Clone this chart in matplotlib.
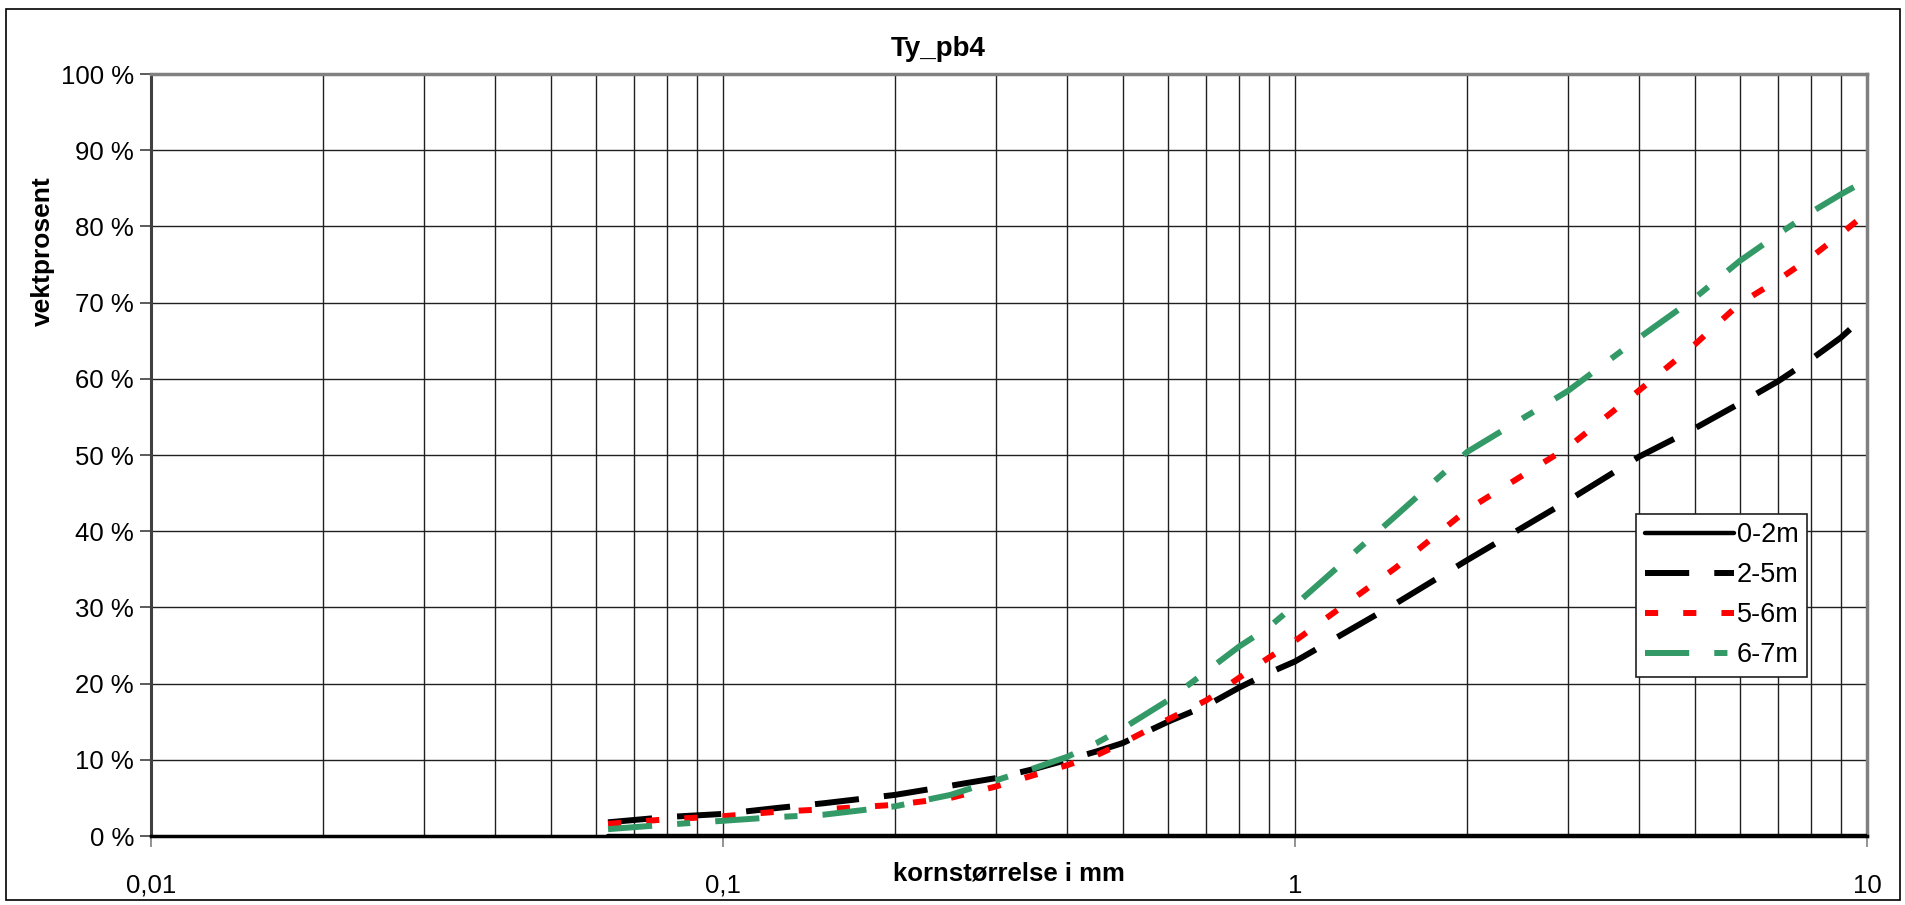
import matplotlib
matplotlib.use("Agg")
import matplotlib.pyplot as plt
from matplotlib.ticker import FixedLocator, FixedFormatter, NullFormatter

# Kornfordeling for Ty_pb4, siktedata per dybde
kornstorrelse = [0.063, 0.08, 0.1, 0.125, 0.15, 0.2, 0.25, 0.3, 0.35, 0.4, 0.45, 0.5,
                 0.6, 0.7, 0.8, 0.9, 1, 1.5, 2, 3, 4, 5, 6, 7, 8, 9, 10]
prove_0_2m = [0] * len(kornstorrelse)
prove_2_5m = [1.8, 2.5, 2.9, 3.7, 4.3, 5.4, 6.6, 7.6, 8.8, 10.0, 11.1, 12.2,
              15.0, 17.1, 19.5, 21.4, 22.9, 30.5, 36.2, 44.0, 49.8, 53.5, 56.8, 59.7, 62.6, 65.4, 68.5]
prove_5_6m = [1.6, 2.2, 2.6, 3.2, 3.5, 4.1, 5.0, 6.5, 8.0, 9.3, 10.6, 12.2,
              15.3, 17.8, 20.8, 23.4, 25.6, 35.2, 42.8, 51.0, 58.5, 64.5, 69.9, 73.0, 76.0, 79.0, 81.8]
prove_6_7m = [0.9, 1.5, 2.0, 2.5, 2.8, 3.9, 5.4, 7.3, 8.9, 10.4, 12.2, 14.1,
              17.8, 21.6, 24.9, 27.4, 30.3, 42.0, 50.4, 58.4, 65.4, 70.6, 75.5, 79.0, 81.9, 84.2, 86.1]

dybder = ["0-2m", "2-5m", "5-6m", "6-7m"]
x_ticks = [0.01, 0.1, 1, 10]
x_tick_labels = ["0,01", "0,1", "1", "10"]
y_ticks = list(range(0, 101, 10))
y_tick_labels = [f"{v} %" for v in y_ticks]

plt.rcParams["font.family"] = ["Liberation Sans", "DejaVu Sans"]
plt.rcParams["font.size"] = 18.5

fig = plt.figure(figsize=(19.06, 9.05), dpi=100)
ax = fig.add_axes([0.0791, 0.0762, 0.9004, 0.842])

# ramme rundt hele figuren
fig.patches.append(plt.Rectangle((0.003, 0.006), 0.994, 0.984, transform=fig.transFigure,
                                 fill=False, edgecolor="black", linewidth=1.2))

ax.plot(kornstorrelse, prove_0_2m, color="black", linewidth=3.2, solid_capstyle="round",
        label=dybder[0], zorder=5)
ax.plot(kornstorrelse, prove_2_5m, color="black", linewidth=4.3, dashes=(7.4, 4.2),
        label=dybder[1], zorder=4)
ax.plot(kornstorrelse, prove_5_6m, color="#ff0000", linewidth=4.3, dashes=(2.2, 4.2),
        label=dybder[2], zorder=4)
ax.plot(kornstorrelse, prove_6_7m, color="#339966", linewidth=4.3, dashes=(7.4, 4.2, 2.2, 4.2),
        label=dybder[3], zorder=4)

ax.set_xscale("log")
ax.set_xlim(0.01, 10)
ax.set_ylim(0, 100)

ax.xaxis.set_major_locator(FixedLocator(x_ticks))
ax.xaxis.set_major_formatter(FixedFormatter(x_tick_labels))
minor = [m * d for d in [0.01, 0.1, 1] for m in range(2, 10)]
ax.xaxis.set_minor_locator(FixedLocator(minor))
ax.xaxis.set_minor_formatter(NullFormatter())
ax.yaxis.set_major_locator(FixedLocator(y_ticks))
ax.yaxis.set_major_formatter(FixedFormatter(y_tick_labels))

ax.grid(True, which="major", axis="both", color="#202020", linewidth=1.0)
ax.grid(True, which="minor", axis="x", color="#202020", linewidth=1.0)
ax.set_axisbelow(True)

ax.tick_params(axis="x", which="major", direction="out", length=8, width=1.2,
               color="#808080", pad=19)
ax.tick_params(axis="x", which="minor", length=0)
ax.tick_params(axis="y", which="major", direction="out", length=8, width=1.2,
               color="#404040", pad=4)

ax.spines["top"].set_color("#808080")
ax.spines["top"].set_linewidth(2.5)
ax.spines["right"].set_color("#808080")
ax.spines["right"].set_linewidth(2.5)
ax.spines["left"].set_color("#404040")
ax.spines["left"].set_linewidth(2.2)
ax.spines["bottom"].set_color("black")
ax.spines["bottom"].set_linewidth(2.5)

ax.set_xlabel("kornstørrelse i mm", fontweight="bold", va="center", fontsize=18.5)
ax.xaxis.set_label_coords(0.5, -0.0486)
ax.set_ylabel("vektprosent", fontweight="bold", va="center", fontsize=19)
ax.yaxis.set_label_coords(-0.063, 0.767)

fig.text(0.492, 0.946, "Ty_pb4", ha="center", va="center", fontsize=20, fontweight="bold")

leg = ax.legend(loc="upper left", bbox_to_anchor=(0.8586, 0.432),
                bbox_transform=fig.transFigure, borderaxespad=0, fancybox=False,
                framealpha=1, edgecolor="#202020", handlelength=3.3, handletextpad=0.1,
                labelspacing=0.52, borderpad=0.3, fontsize=19.5)
leg.get_frame().set_linewidth(1.2)

fig.savefig("out.png", dpi=100)
